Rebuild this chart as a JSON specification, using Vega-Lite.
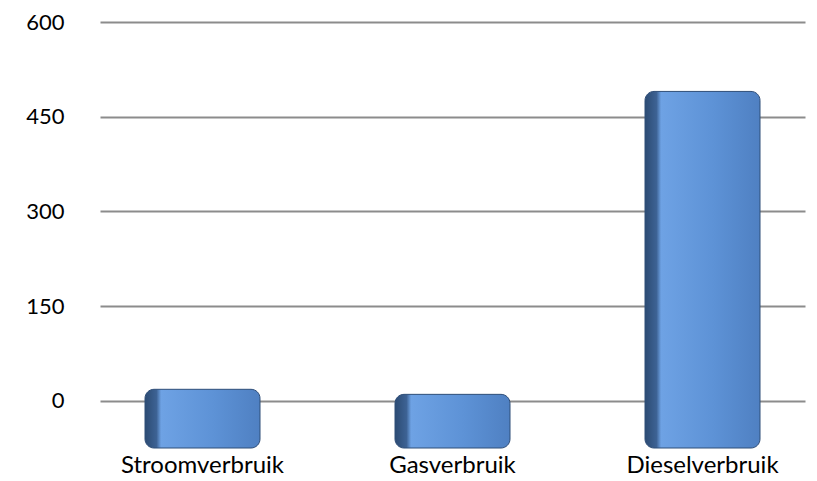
{
  "$schema": "https://vega.github.io/schema/vega-lite/v6.json",
  "autosize": "none",
  "width": 705,
  "height": 426,
  "padding": {"left": 100, "top": 22, "right": 12, "bottom": 33},
  "background": "white",
  "config": {"view": {"stroke": null}},
  "data": {"values": [
    {"categorie": "Stroomverbruik", "waarde": 18},
    {"categorie": "Gasverbruik", "waarde": 10},
    {"categorie": "Dieselverbruik", "waarde": 490}
  ]},
  "mark": {
    "type": "bar",
    "cornerRadius": 9,
    "stroke": "#2f4e78",
    "strokeWidth": 1,
    "color": {"gradient": "linear", "x1": 0, "y1": 0, "x2": 1, "y2": 0,
      "stops": [{"offset": 0, "color": "#2c4b73"}, {"offset": 0.1, "color": "#3d6294"}, {"offset": 0.14, "color": "#6ea2e4"}, {"offset": 0.6, "color": "#5d92d6"}, {"offset": 1, "color": "#4f80c2"}]}
  },
  "encoding": {
    "x": {
      "field": "categorie", "type": "nominal", "sort": null,
      "scale": {"paddingInner": 0.54, "paddingOuter": 0.18},
      "axis": {"title": null, "domain": false, "ticks": false, "labelAngle": 0, "labelFont": "Lato", "labelFontSize": 24, "labelColor": "#000000", "labelPadding": 5}
    },
    "y": {
      "field": "waarde", "type": "quantitative",
      "scale": {"domain": [-75, 600], "nice": false, "zero": false},
      "axis": {"title": null, "values": [0, 150, 300, 450, 600], "domain": false, "ticks": false, "labelFont": "Lato", "labelFontSize": 22, "labelColor": "#000000", "labelPadding": 36, "grid": true, "gridColor": "#8c8c8c", "gridWidth": 2}
    },
    "y2": {"datum": -75}
  }
}
